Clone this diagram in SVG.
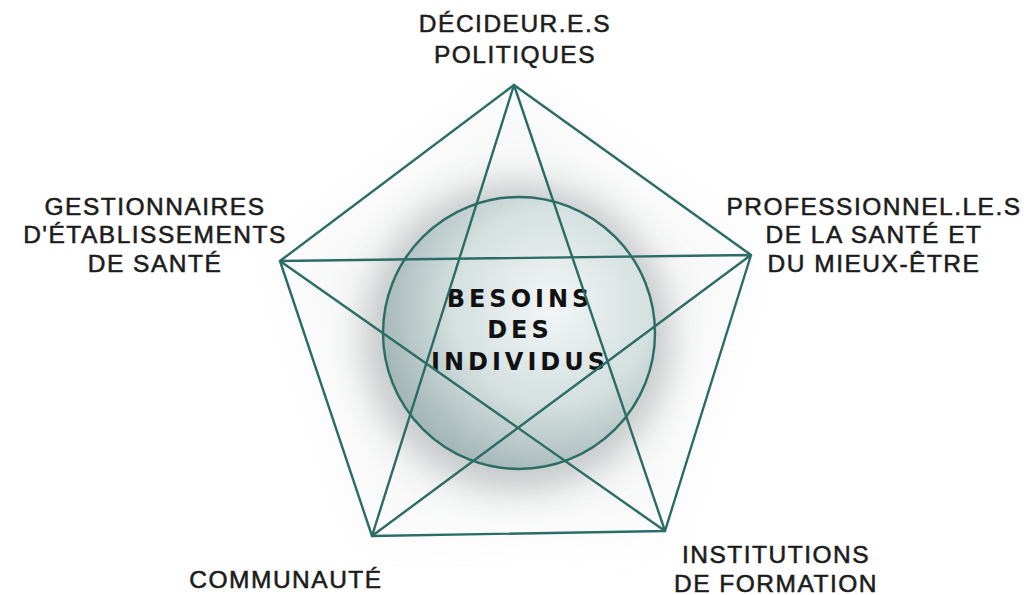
<svg xmlns="http://www.w3.org/2000/svg" width="1035" height="595" viewBox="0 0 1035 595">
<style>
.lbl{font-family:"Liberation Sans",Arial,sans-serif;font-size:24.5px;fill:#1c1c1c;stroke:#1c1c1c;stroke-width:0.55;letter-spacing:1.5px;text-anchor:middle}
.ctr{font-family:"DejaVu Sans",sans-serif;font-weight:bold;font-size:24px;fill:#111;letter-spacing:4px;text-anchor:middle}
.ln{stroke:#2b6d66;stroke-width:2.4;fill:none;stroke-linejoin:round;stroke-linecap:round}
</style>
<defs>
<radialGradient id="ball" cx="0.62" cy="0.4" r="0.72">
<stop offset="0" stop-color="#f3f6f6"/>
<stop offset="0.5" stop-color="#d5e0e0"/>
<stop offset="1" stop-color="#97abab"/>
</radialGradient>
<filter id="blur" x="-50%" y="-50%" width="200%" height="200%"><feGaussianBlur stdDeviation="22"/></filter>
<filter id="blur2" x="-50%" y="-50%" width="200%" height="200%"><feGaussianBlur stdDeviation="16"/></filter>
</defs>
<rect width="1035" height="595" fill="#ffffff"/>
<g id="shadow">
<polygon points="514,85 751,255 665,531 372,536 280,261" fill="#c4c8c8" opacity="0.12" filter="url(#blur)"/>
<circle cx="517" cy="337" r="155" fill="#8d9494" opacity="0.45" filter="url(#blur2)"/>
</g>
<g id="center">
<circle cx="519" cy="333" r="136" fill="url(#ball)" stroke="#2b6d66" stroke-width="2.4"/>
<text class="ctr" x="520" y="307">BESOINS</text>
<text class="ctr" x="520" y="338">DES</text>
<text class="ctr" x="520" y="370">INDIVIDUS</text>
</g>
<g id="connectors">
<polygon class="ln" points="514,85 751,255 665,531 372,536 280,261"/>
<polyline class="ln" points="514,85 372,536 751,255 280,261 665,531 514,85"/>
</g>
<g id="node-decideurs">
<text class="lbl" x="515" y="32">DÉCIDEUR.E.S</text>
<text class="lbl" x="515" y="63">POLITIQUES</text>
</g>
<g id="node-gestionnaires">
<text class="lbl" x="155" y="215">GESTIONNAIRES</text>
<text class="lbl" x="155" y="243">D'ÉTABLISSEMENTS</text>
<text class="lbl" x="155" y="272">DE SANTÉ</text>
</g>
<g id="node-professionnels">
<text class="lbl" x="874" y="215">PROFESSIONNEL.LE.S</text>
<text class="lbl" x="874" y="243">DE LA SANTÉ ET</text>
<text class="lbl" x="874" y="272">DU MIEUX-ÊTRE</text>
</g>
<g id="node-communaute">
<text class="lbl" x="286" y="588">COMMUNAUTÉ</text>
</g>
<g id="node-institutions">
<text class="lbl" x="776" y="563">INSTITUTIONS</text>
<text class="lbl" x="776" y="592">DE FORMATION</text>
</g>
</svg>
